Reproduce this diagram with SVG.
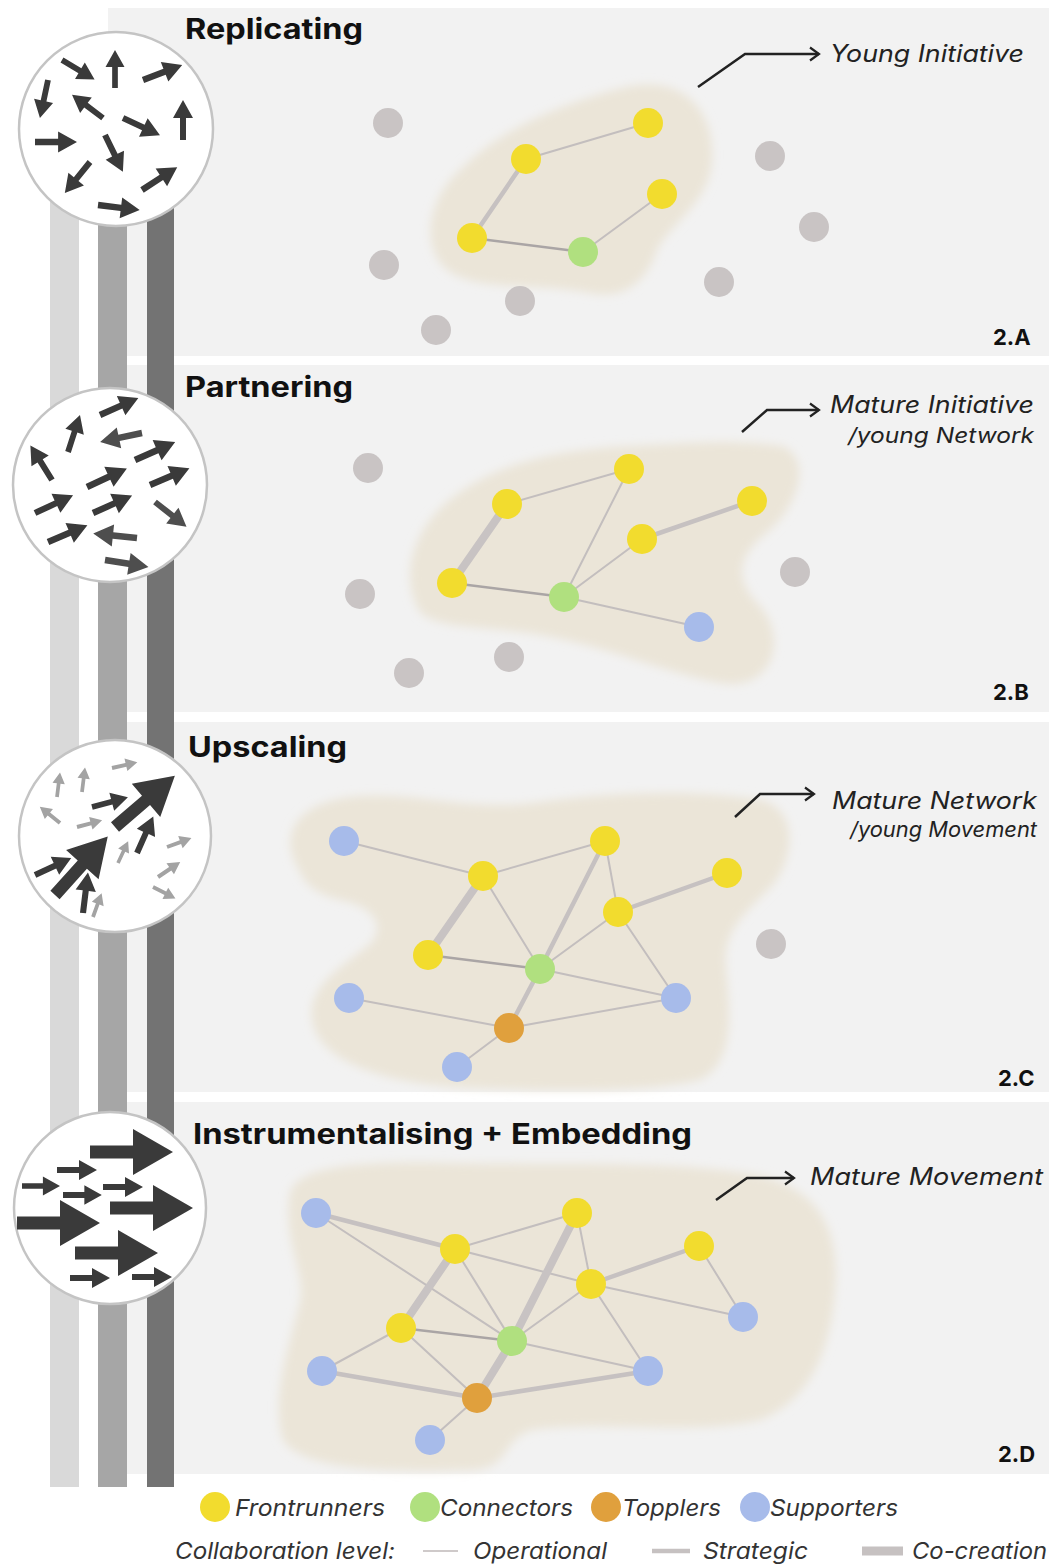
<svg xmlns="http://www.w3.org/2000/svg" xmlns:xlink="http://www.w3.org/1999/xlink" width="1054" height="1564" viewBox="0 0 1054 1564">
<style>
.panel{fill:#f2f2f2}
.title{font-family:Inter,"Liberation Sans",sans-serif;font-weight:700;font-size:28px;fill:#111}
.tag{font-family:Inter,"Liberation Sans",sans-serif;font-weight:700;font-size:22px;fill:#111}
.ann{font-family:Inter,"Liberation Sans",sans-serif;font-style:italic;font-size:24px;fill:#222}
.ann2{font-family:Inter,"Liberation Sans",sans-serif;font-style:italic;font-size:21px;fill:#222}
.leg{font-family:Inter,"Liberation Sans",sans-serif;font-style:italic;font-size:23px;fill:#333}
.blob{fill:#ebe5d8;filter:url(#blur)}
.op{stroke:#c3bebe;stroke-width:2;stroke-linecap:round}
.opd{stroke:#aaa5a5;stroke-width:2.5;stroke-linecap:round}
.st{stroke:#c6c1c1;stroke-width:4.5;stroke-linecap:round}
.co{stroke:#c8c3c3;stroke-width:8;stroke-linecap:round}
.y{fill:#f2dc2e}
.g{fill:#b0e07f}
.o{fill:#e0a03d}
.b{fill:#a7bbea}
.n{fill:#c9c4c4}
.ring{fill:#fff;stroke:#c4c4c4;stroke-width:2.5}
.dk{fill:#3a3a3a}
.lt{fill:#a3a3a3}
.pt{fill:none;stroke:#222;stroke-width:2.5}
</style>
<defs>
<filter id="blur" x="-10%" y="-10%" width="120%" height="120%"><feGaussianBlur stdDeviation="5"/></filter>
<path id="ar" d="M0,-3 L22,-3 L22,-10 L40,0 L22,10 L22,3 L0,3 Z"/>
<path id="arb" d="M0,-6.5 L43,-6.5 L43,-23 L83,0 L43,23 L43,6.5 L0,6.5 Z"/>
<clipPath id="c1"><circle cx="116" cy="129" r="97"/></clipPath>
<clipPath id="c2"><circle cx="110" cy="485" r="97"/></clipPath>
<clipPath id="c3"><circle cx="115" cy="836" r="96"/></clipPath>
<clipPath id="c4"><circle cx="110" cy="1208" r="96"/></clipPath>
<marker id="chev" viewBox="0 0 16 16" refX="13" refY="8" markerWidth="16" markerHeight="16" markerUnits="userSpaceOnUse" orient="auto"><path d="M4,1.5 L13,8 L4,14.5" fill="none" stroke="#222" stroke-width="2.2"/></marker>
</defs>

<g id="panels">
<rect class="panel" x="108" y="8" width="941" height="348"/>
<rect class="panel" x="108" y="365" width="941" height="347"/>
<rect class="panel" x="108" y="722" width="941" height="370"/>
<rect class="panel" x="108" y="1102" width="941" height="372"/>
</g>

<g id="bars">
<rect x="50" y="150" width="29" height="1337" fill="#d9d9d9"/>
<rect x="98" y="150" width="29" height="1337" fill="#a6a6a6"/>
<rect x="147" y="150" width="27" height="1337" fill="#737373"/>
</g>

<g id="icon-replicating">
<circle class="ring" cx="116" cy="129" r="97"/>
<g clip-path="url(#c1)" class="dk">
<use href="#ar" transform="translate(62,60) rotate(31) scale(0.95)"/>
<use href="#ar" transform="translate(115,88) rotate(-90) scale(0.95)"/>
<use href="#ar" transform="translate(143,80) rotate(-21) scale(1.05)"/>
<use href="#ar" transform="translate(48,80) rotate(102) scale(0.97)"/>
<use href="#ar" transform="translate(103,118) rotate(-143) scale(0.97)"/>
<use href="#ar" transform="translate(123,118) rotate(25) scale(1.02)"/>
<use href="#ar" transform="translate(183,140) rotate(-90) scale(1)"/>
<use href="#ar" transform="translate(35,142) rotate(0) scale(1.05)"/>
<use href="#ar" transform="translate(105,135) rotate(64) scale(1.02)"/>
<use href="#ar" transform="translate(90,162) rotate(129) scale(1)"/>
<use href="#ar" transform="translate(142,190) rotate(-33) scale(1.05)"/>
<use href="#ar" transform="translate(98,205) rotate(7) scale(1.05)"/>
</g>
</g>

<g id="icon-partnering">
<circle class="ring" cx="110" cy="485" r="97"/>
<g clip-path="url(#c2)" class="dk">
<use href="#ar" transform="translate(100,415) rotate(-24) scale(1.05)"/>
<use href="#ar" transform="translate(68,452) rotate(-72) scale(0.97)"/>
<use href="#ar" transform="translate(142,433) rotate(168) scale(1.07)" fill="#4e4e4e"/>
<use href="#ar" transform="translate(52,480) rotate(-122) scale(1.02)"/>
<use href="#ar" transform="translate(135,460) rotate(-24) scale(1.1)"/>
<use href="#ar" transform="translate(87,487) rotate(-25) scale(1.1)"/>
<use href="#ar" transform="translate(150,485) rotate(-23) scale(1.07)"/>
<use href="#ar" transform="translate(35,513) rotate(-25) scale(1.05)"/>
<use href="#ar" transform="translate(93,513) rotate(-24) scale(1.07)"/>
<use href="#ar" transform="translate(155,502) rotate(38) scale(1)" fill="#4e4e4e"/>
<use href="#ar" transform="translate(48,542) rotate(-23) scale(1.07)"/>
<use href="#ar" transform="translate(137,538) rotate(186) scale(1.1)" fill="#4e4e4e"/>
<use href="#ar" transform="translate(105,560) rotate(9) scale(1.1)" fill="#4e4e4e"/>
</g>
</g>

<g id="icon-upscaling">
<circle class="ring" cx="115" cy="836" r="96"/>
<g clip-path="url(#c3)">
<g class="lt">
<use href="#ar" transform="translate(57,797) rotate(-83) scale(0.62)"/>
<use href="#ar" transform="translate(82,792) rotate(-83) scale(0.62)"/>
<use href="#ar" transform="translate(112,768) rotate(-13) scale(0.65)"/>
<use href="#ar" transform="translate(60,823) rotate(-141) scale(0.65)"/>
<use href="#ar" transform="translate(77,827) rotate(-15) scale(0.65)"/>
<use href="#ar" transform="translate(118,863) rotate(-65) scale(0.6)"/>
<use href="#ar" transform="translate(167,847) rotate(-20) scale(0.65)"/>
<use href="#ar" transform="translate(158,877) rotate(-34) scale(0.67)"/>
<use href="#ar" transform="translate(153,887) rotate(27) scale(0.63)"/>
<use href="#ar" transform="translate(93,917) rotate(-70) scale(0.63)"/>
</g>
<g class="dk">
<use href="#ar" transform="translate(92,807) rotate(-15) scale(0.93)"/>
<use href="#arb" transform="translate(115,827) rotate(-40.6) scale(0.95)"/>
<use href="#arb" transform="translate(55,895) rotate(-48) scale(0.95)"/>
<use href="#ar" transform="translate(137,853) rotate(-66) scale(1)"/>
<use href="#ar" transform="translate(35,875) rotate(-25) scale(1)"/>
<use href="#ar" transform="translate(83,913) rotate(-83) scale(1.02)"/>
</g>
</g>
</g>

<g id="icon-instrumentalising">
<circle class="ring" cx="110" cy="1208" r="96"/>
<g clip-path="url(#c4)" class="dk">
<use href="#arb" transform="translate(90,1152)"/>
<use href="#arb" transform="translate(110,1208)"/>
<use href="#arb" transform="translate(17,1223)"/>
<use href="#arb" transform="translate(75,1253)"/>
<use href="#ar" transform="translate(57,1170)"/>
<use href="#ar" transform="translate(22,1186) scale(0.95)"/>
<use href="#ar" transform="translate(103,1187)"/>
<use href="#ar" transform="translate(63,1195) scale(0.97)"/>
<use href="#ar" transform="translate(70,1278)"/>
<use href="#ar" transform="translate(132,1277)"/>
</g>
</g>

<g id="titles">
<text class="title" x="185" y="39" textLength="178" lengthAdjust="spacingAndGlyphs">Replicating</text>
<text class="title" x="185" y="397" textLength="168" lengthAdjust="spacingAndGlyphs">Partnering</text>
<text class="title" x="188" y="757" textLength="159" lengthAdjust="spacingAndGlyphs">Upscaling</text>
<text class="title" x="193" y="1144" textLength="499" lengthAdjust="spacingAndGlyphs">Instrumentalising + Embedding</text>
<text class="tag" x="993" y="345">2.A</text>
<text class="tag" x="993" y="700">2.B</text>
<text class="tag" x="998" y="1086">2.C</text>
<text class="tag" x="998" y="1462">2.D</text>
</g>

<g id="blobs">
<path class="blob" d="M450,272 C420,252 425,200 462,168 C500,130 560,104 622,88 C684,72 716,112 712,162 C709,202 672,222 657,250 C646,284 622,300 590,293 C540,283 482,292 450,272 Z"/>
<path class="blob" d="M420,612 C400,580 410,530 452,498 C502,460 562,450 630,446 C700,442 742,440 782,446 C812,458 800,502 770,530 C738,555 732,577 760,606 C790,642 770,692 720,683 C660,672 600,642 520,632 C470,626 435,627 420,612 Z"/>
<path class="blob" d="M300,872 C275,832 300,800 360,796 C420,792 470,812 540,802 C620,791 700,790 762,800 C802,812 792,862 772,886 C742,916 722,932 726,970 C730,1010 736,1062 700,1080 C640,1094 540,1090 470,1088 C380,1084 318,1060 312,1020 C306,984 350,962 372,942 C386,922 370,906 340,900 C320,895 305,886 300,872 Z"/>
<path class="blob" d="M290,1192 C300,1166 360,1161 450,1163 C560,1165 680,1160 762,1176 C822,1192 840,1232 835,1292 C830,1352 810,1400 760,1420 C700,1436 600,1420 532,1430 C500,1440 512,1468 472,1470 C400,1472 302,1472 283,1440 C270,1400 290,1342 300,1302 C306,1272 282,1242 290,1192 Z"/>
</g>

<g id="connectors">
<line class="op" x1="526" y1="159" x2="648" y2="123"/>
<line class="st" x1="526" y1="159" x2="472" y2="238"/>
<line class="opd" x1="472" y1="238" x2="583" y2="252"/>
<line class="op" x1="583" y1="252" x2="662" y2="194"/>

<line class="op" x1="507" y1="504" x2="629" y2="469"/>
<line class="co" x1="507" y1="504" x2="452" y2="583"/>
<line class="op" x1="629" y1="469" x2="564" y2="597"/>
<line class="st" x1="642" y1="539" x2="752" y2="501"/>
<line class="op" x1="642" y1="539" x2="564" y2="597"/>
<line class="opd" x1="452" y1="583" x2="564" y2="597"/>
<line class="op" x1="564" y1="597" x2="699" y2="627"/>

<line class="op" x1="344" y1="841" x2="483" y2="876"/>
<line class="op" x1="483" y1="876" x2="605" y2="841"/>
<line class="co" x1="483" y1="876" x2="428" y2="955"/>
<line class="op" x1="483" y1="876" x2="540" y2="969"/>
<line class="st" x1="605" y1="841" x2="540" y2="969"/>
<line class="op" x1="605" y1="841" x2="618" y2="912"/>
<line class="st" x1="618" y1="912" x2="727" y2="873"/>
<line class="op" x1="618" y1="912" x2="540" y2="969"/>
<line class="op" x1="618" y1="912" x2="676" y2="998"/>
<line class="opd" x1="428" y1="955" x2="540" y2="969"/>
<line class="op" x1="540" y1="969" x2="676" y2="998"/>
<line class="st" x1="540" y1="969" x2="509" y2="1028"/>
<line class="op" x1="349" y1="998" x2="509" y2="1028"/>
<line class="op" x1="509" y1="1028" x2="676" y2="998"/>
<line class="op" x1="509" y1="1028" x2="457" y2="1067"/>

<line class="st" x1="316" y1="1213" x2="455" y2="1249"/>
<line class="op" x1="316" y1="1213" x2="512" y2="1341"/>
<line class="op" x1="455" y1="1249" x2="577" y2="1213"/>
<line class="co" x1="455" y1="1249" x2="401" y2="1328"/>
<line class="op" x1="455" y1="1249" x2="512" y2="1341"/>
<line class="op" x1="455" y1="1249" x2="591" y2="1284"/>
<line class="co" x1="577" y1="1213" x2="512" y2="1341"/>
<line class="op" x1="577" y1="1213" x2="591" y2="1284"/>
<line class="st" x1="591" y1="1284" x2="699" y2="1246"/>
<line class="op" x1="591" y1="1284" x2="512" y2="1341"/>
<line class="op" x1="591" y1="1284" x2="743" y2="1317"/>
<line class="op" x1="591" y1="1284" x2="648" y2="1371"/>
<line class="op" x1="699" y1="1246" x2="743" y2="1317"/>
<line class="opd" x1="401" y1="1328" x2="512" y2="1341"/>
<line class="op" x1="401" y1="1328" x2="322" y2="1371"/>
<line class="op" x1="401" y1="1328" x2="477" y2="1398"/>
<line class="op" x1="512" y1="1341" x2="648" y2="1371"/>
<line class="co" x1="512" y1="1341" x2="477" y2="1398"/>
<line class="st" x1="322" y1="1371" x2="477" y2="1398"/>
<line class="st" x1="477" y1="1398" x2="648" y2="1371"/>
<line class="op" x1="477" y1="1398" x2="430" y2="1440"/>

<polyline class="pt" points="698,87 745,54 819,54" marker-end="url(#chev)"/>
<polyline class="pt" points="742,432 767,410 819,410" marker-end="url(#chev)"/>
<polyline class="pt" points="735,817 760,794 814,794" marker-end="url(#chev)"/>
<polyline class="pt" points="716,1200 747,1178 794,1178" marker-end="url(#chev)"/>
</g>

<g id="annotations">
<text class="ann" x="830" y="62" textLength="194" lengthAdjust="spacingAndGlyphs">Young Initiative</text>
<text class="ann" x="830" y="413" textLength="204" lengthAdjust="spacingAndGlyphs">Mature Initiative</text>
<text class="ann2" x="848" y="443" textLength="186" lengthAdjust="spacingAndGlyphs">/young Network</text>
<text class="ann" x="832" y="809" textLength="205" lengthAdjust="spacingAndGlyphs">Mature Network</text>
<text class="ann2" x="850" y="837" textLength="187" lengthAdjust="spacingAndGlyphs">/young Movement</text>
<text class="ann" x="810" y="1185" textLength="233" lengthAdjust="spacingAndGlyphs">Mature Movement</text>
</g>

<g id="nodes-2A">
<g id="a-n1"><circle class="n" cx="388" cy="123" r="15"/></g>
<g id="a-y1"><circle class="y" cx="526" cy="159" r="15"/></g>
<g id="a-y2"><circle class="y" cx="648" cy="123" r="15"/></g>
<g id="a-y3"><circle class="y" cx="662" cy="194" r="15"/></g>
<g id="a-y4"><circle class="y" cx="472" cy="238" r="15"/></g>
<g id="a-g1"><circle class="g" cx="583" cy="252" r="15"/></g>
<g id="a-n2"><circle class="n" cx="770" cy="156" r="15"/></g>
<g id="a-n3"><circle class="n" cx="814" cy="227" r="15"/></g>
<g id="a-n4"><circle class="n" cx="384" cy="265" r="15"/></g>
<g id="a-n5"><circle class="n" cx="520" cy="301" r="15"/></g>
<g id="a-n6"><circle class="n" cx="436" cy="330" r="15"/></g>
<g id="a-n7"><circle class="n" cx="719" cy="282" r="15"/></g>
</g>

<g id="nodes-2B">
<g id="b-n1"><circle class="n" cx="368" cy="468" r="15"/></g>
<g id="b-y1"><circle class="y" cx="507" cy="504" r="15"/></g>
<g id="b-y2"><circle class="y" cx="629" cy="469" r="15"/></g>
<g id="b-y3"><circle class="y" cx="752" cy="501" r="15"/></g>
<g id="b-y4"><circle class="y" cx="642" cy="539" r="15"/></g>
<g id="b-y5"><circle class="y" cx="452" cy="583" r="15"/></g>
<g id="b-g1"><circle class="g" cx="564" cy="597" r="15"/></g>
<g id="b-b1"><circle class="b" cx="699" cy="627" r="15"/></g>
<g id="b-n2"><circle class="n" cx="360" cy="594" r="15"/></g>
<g id="b-n3"><circle class="n" cx="409" cy="673" r="15"/></g>
<g id="b-n4"><circle class="n" cx="509" cy="657" r="15"/></g>
<g id="b-n5"><circle class="n" cx="795" cy="572" r="15"/></g>
</g>

<g id="nodes-2C">
<g id="c-b1"><circle class="b" cx="344" cy="841" r="15"/></g>
<g id="c-y1"><circle class="y" cx="483" cy="876" r="15"/></g>
<g id="c-y2"><circle class="y" cx="605" cy="841" r="15"/></g>
<g id="c-y3"><circle class="y" cx="727" cy="873" r="15"/></g>
<g id="c-y4"><circle class="y" cx="618" cy="912" r="15"/></g>
<g id="c-y5"><circle class="y" cx="428" cy="955" r="15"/></g>
<g id="c-g1"><circle class="g" cx="540" cy="969" r="15"/></g>
<g id="c-b2"><circle class="b" cx="349" cy="998" r="15"/></g>
<g id="c-b3"><circle class="b" cx="676" cy="998" r="15"/></g>
<g id="c-o1"><circle class="o" cx="509" cy="1028" r="15"/></g>
<g id="c-b4"><circle class="b" cx="457" cy="1067" r="15"/></g>
<g id="c-n1"><circle class="n" cx="771" cy="944" r="15"/></g>
</g>

<g id="nodes-2D">
<g id="d-b1"><circle class="b" cx="316" cy="1213" r="15"/></g>
<g id="d-y1"><circle class="y" cx="455" cy="1249" r="15"/></g>
<g id="d-y2"><circle class="y" cx="577" cy="1213" r="15"/></g>
<g id="d-y3"><circle class="y" cx="699" cy="1246" r="15"/></g>
<g id="d-y4"><circle class="y" cx="591" cy="1284" r="15"/></g>
<g id="d-b2"><circle class="b" cx="743" cy="1317" r="15"/></g>
<g id="d-y5"><circle class="y" cx="401" cy="1328" r="15"/></g>
<g id="d-g1"><circle class="g" cx="512" cy="1341" r="15"/></g>
<g id="d-b3"><circle class="b" cx="322" cy="1371" r="15"/></g>
<g id="d-b4"><circle class="b" cx="648" cy="1371" r="15"/></g>
<g id="d-o1"><circle class="o" cx="477" cy="1398" r="15"/></g>
<g id="d-b5"><circle class="b" cx="430" cy="1440" r="15"/></g>
</g>

<g id="legend">
<circle class="y" cx="215" cy="1507" r="15"/>
<text class="leg" x="235" y="1516" textLength="150" lengthAdjust="spacingAndGlyphs">Frontrunners</text>
<circle class="g" cx="425" cy="1507" r="15"/>
<text class="leg" x="440" y="1516" textLength="133" lengthAdjust="spacingAndGlyphs">Connectors</text>
<circle class="o" cx="606" cy="1507" r="15"/>
<text class="leg" x="622" y="1516" textLength="99" lengthAdjust="spacingAndGlyphs">Topplers</text>
<circle class="b" cx="755" cy="1507" r="15"/>
<text class="leg" x="770" y="1516" textLength="128" lengthAdjust="spacingAndGlyphs">Supporters</text>
<text class="leg" x="175" y="1559" textLength="220" lengthAdjust="spacingAndGlyphs">Collaboration level:</text>
<line x1="423" y1="1551" x2="458" y2="1551" stroke="#cfcaca" stroke-width="2"/>
<text class="leg" x="473" y="1559" textLength="134" lengthAdjust="spacingAndGlyphs">Operational</text>
<line x1="652" y1="1551" x2="690" y2="1551" stroke="#c6c1c1" stroke-width="4.5"/>
<text class="leg" x="703" y="1559" textLength="105" lengthAdjust="spacingAndGlyphs">Strategic</text>
<line x1="862" y1="1551" x2="903" y2="1551" stroke="#c6c1c1" stroke-width="9"/>
<text class="leg" x="912" y="1559" textLength="135" lengthAdjust="spacingAndGlyphs">Co-creation</text>
</g>
</svg>
